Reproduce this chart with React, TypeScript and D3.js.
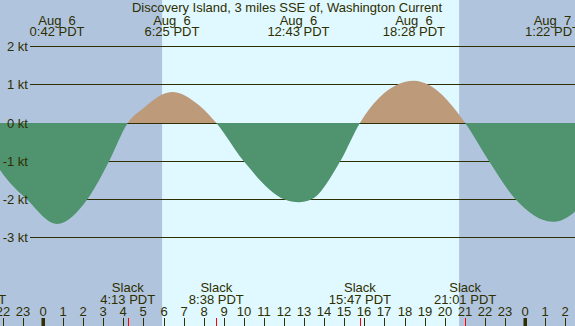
import React from 'react';
import * as d3 from 'd3';

// curve: hours since Aug 6 00:00 PDT, knots (+ flood, - ebb)
const curveHours = [-3.38, -2.14, -0.8, 0.7, 2.2, 3.29, 4.22, 4.98, 6.42, 7.8, 8.63, 10.0, 12.04, 12.72, 13.35, 14.8, 15.78, 17.63, 18.47, 19.22, 21.02, 22.21, 23.54, 25.37, 26.49, 27.6];
const curveKnots = [0, -1.23, -2.0, -2.64, -2.0, -1.0, 0, 0.38, 0.81, 0.45, 0, -1.0, -2.0, -2.07, -2.0, -1.0, 0, 1.0, 1.1, 0.99, 0, -1.0, -2.0, -2.58, -2.31, -1.5];

const peakHours = [0.7, 6.42, 12.72, 18.47, 25.37];
const peakDates = ['Aug  6', 'Aug  6', 'Aug  6', 'Aug  6', 'Aug  7'];
const peakTimes = ['0:42 PDT', '6:25 PDT', '12:43 PDT', '18:28 PDT', '1:22 PDT'];

const slackHours = [-3.38, 4.22, 8.63, 15.78, 21.02];
const slackTimes = ['20:37 PDT', '4:13 PDT', '8:38 PDT', '15:47 PDT', '21:01 PDT'];

const knotTicks = [2, 1, 0, -1, -2, -3];
const sunrise = 5.93;
const sunset = 20.72;

const W = 575;
const H = 326;
const ink = '#2e2e00';
const font = '"Liberation Sans", Arial, sans-serif';
const fs = 13;

export default function App() {
  const x = d3.scaleLinear().domain([0, 24]).range([43, 525]);
  const y = d3.scaleLinear().domain([-3, 2]).range([237.9, 46.4]);

  const pts = curveHours.map((h, i) => [h, curveKnots[i]] as [number, number]);
  const area = d3
    .area<[number, number]>()
    .x((d) => x(d[0]))
    .y0(y(0))
    .y1((d) => y(d[1]))
    .curve(d3.curveMonotoneX);
  const path = area(pts) || '';

  const hours = d3.range(-2, 27);

  return (
    <div style={{ position: 'fixed', left: 0, top: 0 }}>
      <svg width={W} height={H} style={{ display: 'block', fontFamily: font }}>
        <defs>
          <clipPath id="above">
            <rect x={0} y={0} width={W} height={y(0)} />
          </clipPath>
          <clipPath id="below">
            <rect x={0} y={y(0)} width={W} height={H} />
          </clipPath>
        </defs>
        <rect x={0} y={0} width={W} height={H} fill="#b0c4de" />
        <rect x={x(sunrise)} y={0} width={x(sunset) - x(sunrise)} height={H} fill="#e0f8ff" />

        {knotTicks.map((k) => (
          <line key={k} x1={30} x2={W} y1={Math.floor(y(k)) + 0.5} y2={Math.floor(y(k)) + 0.5} stroke={ink} strokeWidth={1} />
        ))}

        <path d={path} fill="#bd9a7a" clipPath="url(#above)" />
        <path d={path} fill="#50946f" clipPath="url(#below)" />

        {knotTicks.map((k) => (
          <text key={k} x={28} y={Math.floor(y(k)) + 5} textAnchor="end" fontSize={fs} fill={ink}>
            {`${k} kt`}
          </text>
        ))}

        <text x={287} y={12} textAnchor="middle" fontSize={fs} fill={ink}>
          Discovery Island, 3 miles SSE of, Washington Current
        </text>
        {peakHours.map((h, i) => (
          <g key={i}>
            <text x={x(h)} y={24.5} textAnchor="middle" fontSize={fs} fill={ink} style={{ whiteSpace: 'pre' }}>
              {peakDates[i]}
            </text>
            <text x={x(h)} y={36} textAnchor="middle" fontSize={fs} fill={ink}>
              {peakTimes[i]}
            </text>
          </g>
        ))}

        {slackHours.map((h, i) => (
          <g key={i}>
            <text x={x(h)} y={291.5} textAnchor="middle" fontSize={fs} fill={ink}>
              Slack
            </text>
            <text x={x(h)} y={303.5} textAnchor="middle" fontSize={fs} fill={ink}>
              {slackTimes[i]}
            </text>
          </g>
        ))}

        {hours.map((h) => {
          const hh = ((h % 24) + 24) % 24;
          const px = Math.round(x(h));
          return (
            <g key={h}>
              <text x={px} y={315.5} textAnchor="middle" fontSize={fs} fill={ink}>
                {String(hh)}
              </text>
              {hh === 0 ? (
                <rect x={px - 1.5} y={318} width={3.5} height={8} fill={ink} />
              ) : (
                <line x1={px + 0.5} x2={px + 0.5} y1={318} y2={H} stroke={ink} />
              )}
            </g>
          );
        })}
        {slackHours.map((h, i) => (
          <line key={i} x1={Math.round(x(h)) + 0.5} x2={Math.round(x(h)) + 0.5} y1={318} y2={H} stroke="#ff0000" />
        ))}
      </svg>
    </div>
  );
}
